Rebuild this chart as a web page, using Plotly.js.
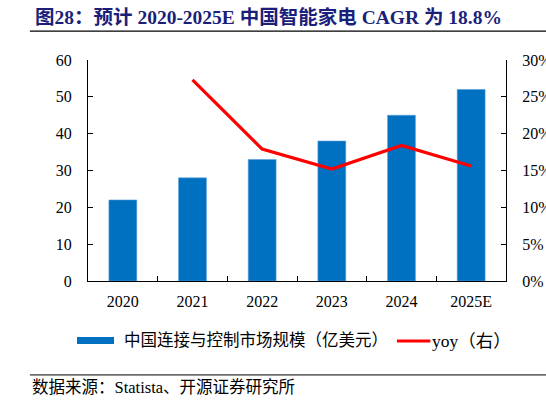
<!DOCTYPE html>
<html>
<head>
<meta charset="utf-8">
<script src="https://cdn.plot.ly/plotly-3.0.1.min.js"></script>
<style>
html,body{margin:0;padding:0;background:#fff;}
#chart{width:546px;height:405px;}
</style>
</head>
<body>
<div id="chart"></div>
<script>
var categories = ["2020", "2021", "2022", "2023", "2024", "2025E"];
var marketSize = [22, 28, 33, 38, 45, 52];
var yoyPct = [null, 27.3, 17.9, 15.2, 18.4, 15.6];
var leftTicks = [0, 10, 20, 30, 40, 50, 60];
var rightTicks = [0, 5, 10, 15, 20, 25, 30];
var rightTickLabels = ["0%", "5%", "10%", "15%", "20%", "25%", "30%"];

var FONT = "Liberation Serif, Times New Roman, Noto Sans CJK SC, serif";

var traces = [
  {
    type: "bar",
    x: categories,
    y: marketSize,
    name: "中国连接与控制市场规模（亿美元）",
    marker: {color: "#0070C0", line: {color: "#5A9FD8", width: 0.6}},
    width: 0.4,
    yaxis: "y"
  },
  {
    type: "scatter",
    mode: "lines",
    x: categories,
    y: yoyPct,
    name: "yoy（右）",
    line: {color: "#FF0000", width: 3.2},
    yaxis: "y2",
    connectgaps: false
  }
];

var layout = {
  width: 546,
  height: 405,
  margin: {l: 88, r: 40, t: 60, b: 124},
  paper_bgcolor: "#fff",
  plot_bgcolor: "#fff",
  showlegend: false,
  font: {family: FONT, size: 16, color: "#000"},
  bargap: 0.6,
  xaxis: {
    type: "category",
    range: [-0.5, 5.5],
    showline: true, linecolor: "#000", linewidth: 1,
    ticks: "inside", ticklen: 5, tickcolor: "#000", tickson: "boundaries",
    showgrid: false, zeroline: false,
    tickfont: {family: FONT, size: 16, color: "#000"},
    ticklabelstandoff: 6
  },
  yaxis: {
    range: [0, 60],
    tickvals: leftTicks,
    showline: true, linecolor: "#000", linewidth: 1,
    ticks: "inside", ticklen: 5, tickcolor: "#000",
    showgrid: false, zeroline: false,
    tickfont: {family: FONT, size: 16, color: "#000"},
    ticklabelstandoff: 12
  },
  yaxis2: {
    range: [0, 30],
    overlaying: "y",
    side: "right",
    tickvals: rightTicks,
    ticktext: rightTickLabels,
    showline: true, linecolor: "#000", linewidth: 1,
    ticks: "inside", ticklen: 5, tickcolor: "#000",
    showgrid: false, zeroline: false,
    tickfont: {family: FONT, size: 16, color: "#000"},
    ticklabelstandoff: 12
  },
  shapes: [
    {type: "line", xref: "paper", yref: "paper", x0: -0.139, x1: 1.096, y0: 1.131, y1: 1.131, line: {color: "#000", width: 1.2}},
    {type: "line", xref: "paper", yref: "paper", x0: -0.139, x1: 1.096, y0: -0.425, y1: -0.425, line: {color: "#000", width: 1}},
    {type: "rect", xref: "paper", yref: "paper", x0: -0.0263, x1: 0.0622, y0: -0.253, y1: -0.285, fillcolor: "#0070C0", line: {width: 0}},
    {type: "line", xref: "paper", yref: "paper", x0: 0.739, x1: 0.819, y0: -0.271, y1: -0.271, line: {color: "#FF0000", width: 3}}
  ],
  annotations: [
    {xref: "paper", yref: "paper", x: -0.131, y: 1.195, xanchor: "left", yanchor: "middle", showarrow: false,
     text: "<b>图28：预计 2020-2025E 中国智能家电 CAGR 为 18.8%</b>",
     font: {family: FONT, size: 19.5, color: "#1B1F7A"}},
    {xref: "paper", yref: "paper", x: 0.081, y: -0.271, xanchor: "left", yanchor: "middle", showarrow: false,
     text: "中国连接与控制市场规模（亿美元）", font: {family: FONT, size: 16.5, color: "#000"}},
    {xref: "paper", yref: "paper", x: 0.819, y: -0.271, xanchor: "left", yanchor: "middle", showarrow: false,
     text: "yoy（右）", font: {family: FONT, size: 17.5, color: "#000"}},
    {xref: "paper", yref: "paper", x: -0.139, y: -0.480, xanchor: "left", yanchor: "middle", showarrow: false,
     text: "数据来源：Statista、开源证券研究所", font: {family: FONT, size: 16.5, color: "#000"}}
  ]
};

Plotly.newPlot("chart", traces, layout, {displayModeBar: false, staticPlot: true});
</script>
</body>
</html>
